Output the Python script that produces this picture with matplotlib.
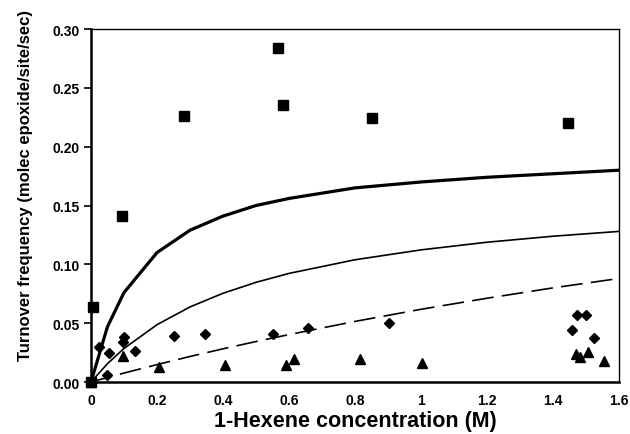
import matplotlib
matplotlib.use("Agg")
import matplotlib.pyplot as plt
from matplotlib.ticker import FixedLocator

plt.rcParams['font.family'] = ['Liberation Sans', 'DejaVu Sans']

# Scatter data
sq_x = [0.0, 0.007, 0.095, 0.282, 0.567, 0.583, 0.853, 1.445]
sq_y = [0.0, 0.064, 0.141, 0.226, 0.284, 0.235, 0.224, 0.220]

dia_x = [0.0, 0.023, 0.050, 0.055, 0.098, 0.100, 0.133, 0.252, 0.347, 0.553,
         0.659, 0.903, 1.459, 1.472, 1.500, 1.525]
dia_y = [0.0, 0.030, 0.006, 0.0246, 0.034, 0.038, 0.026, 0.0394, 0.041, 0.0405,
         0.046, 0.0499, 0.044, 0.057, 0.057, 0.037]

tri_x = [0.0, 0.097, 0.205, 0.406, 0.590, 0.616, 0.815, 1.004, 1.469, 1.482,
         1.505, 1.555]
tri_y = [0.0, 0.022, 0.013, 0.0147, 0.0147, 0.0195, 0.0195, 0.016, 0.0238,
         0.0215, 0.0252, 0.018]

# Fitted curves
curve_x = [0.0, 0.05, 0.1, 0.2, 0.3, 0.4, 0.5, 0.6, 0.8, 1.0, 1.2, 1.4, 1.6]
thick_y = [0.0, 0.047, 0.076, 0.110, 0.129, 0.141, 0.150, 0.156, 0.165,
           0.170, 0.174, 0.177, 0.180]
thin_y = [0.0, 0.0156, 0.0285, 0.0487, 0.0638, 0.0754, 0.0847, 0.0923,
          0.1039, 0.1123, 0.1188, 0.1239, 0.128]
dash_y = [0.0, 0.0038, 0.0076, 0.0148, 0.0217, 0.0282, 0.0344, 0.0403,
          0.0515, 0.0618, 0.0712, 0.080, 0.088]

x_ticks = [0, 0.2, 0.4, 0.6, 0.8, 1.0, 1.2, 1.4, 1.6]
x_tick_labels = ['0', '0.2', '0.4', '0.6', '0.8', '1', '1.2', '1.4', '1.6']
y_ticks = [0.0, 0.05, 0.10, 0.15, 0.20, 0.25, 0.30]
y_tick_labels = ['0.00', '0.05', '0.10', '0.15', '0.20', '0.25', '0.30']

fig = plt.figure(figsize=(6.3, 4.35), dpi=100)
ax = fig.add_axes([0.1444, 0.1195, 0.8381, 0.8115])

ax.plot(curve_x, thick_y, color='black', lw=2.3, solid_capstyle='butt', zorder=2)
ax.plot(curve_x, thin_y, color='black', lw=1.2, zorder=2)
ax.plot(curve_x, dash_y, color='black', lw=1.2, dashes=(13, 5), zorder=2)

ax.plot(sq_x, sq_y, 's', color='black', ms=6.7, ls='none', zorder=3, clip_on=False)
ax.plot(dia_x, dia_y, 'D', color='black', ms=5.5, ls='none', zorder=3, clip_on=False)
ax.plot(tri_x, tri_y, '^', color='black', ms=7, ls='none', zorder=3, clip_on=False)

ax.set_xlim(0, 1.6)
ax.set_ylim(0, 0.30)
ax.xaxis.set_major_locator(FixedLocator(x_ticks))
ax.set_xticklabels(x_tick_labels)
ax.yaxis.set_major_locator(FixedLocator(y_ticks))
ax.set_yticklabels(y_tick_labels)

for lab in ax.get_xticklabels() + ax.get_yticklabels():
    lab.set_fontweight('bold')
    lab.set_fontsize(10)

ax.tick_params(axis='y', direction='out', length=5, width=1.2, pad=3)
ax.tick_params(axis='x', direction='out', length=0, pad=8)

ax.spines['left'].set_linewidth(1.8)
ax.spines['bottom'].set_linewidth(1.8)
ax.spines['top'].set_linewidth(1.0)
ax.spines['right'].set_linewidth(1.0)

ax.set_xlabel('1-Hexene concentration (M)', fontsize=15.5, fontweight='bold', labelpad=2)
ax.set_ylabel('Turnover frequency (molec epoxide/site/sec)', fontsize=12,
              fontweight='bold')
ax.yaxis.set_label_coords(-0.11, 0.56)

fig.savefig('out.png', dpi=100)
